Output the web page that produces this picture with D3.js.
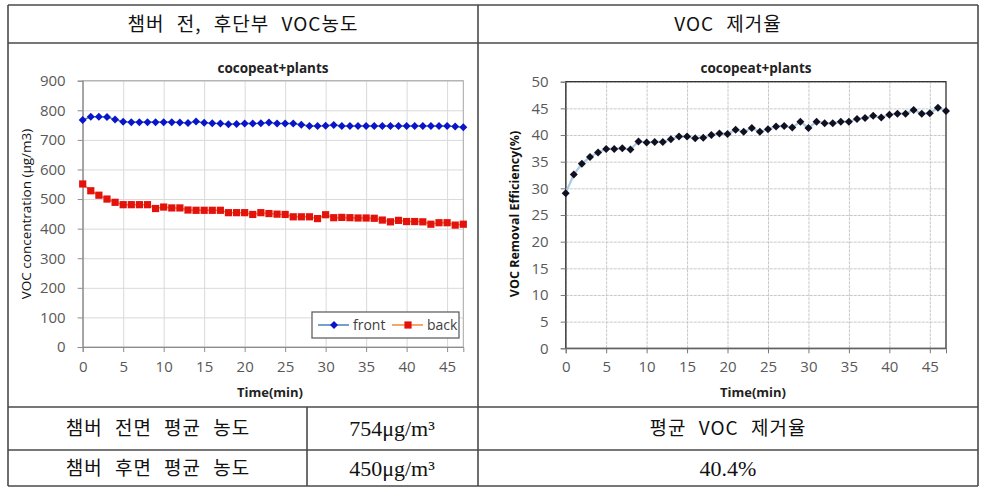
<!DOCTYPE html>
<html>
<head>
<meta charset="utf-8">
<script src="https://cdn.jsdelivr.net/npm/d3@7/dist/d3.min.js"></script>
<style>
body { margin: 0; background: #fff; }
.tick text { font-family: "Open Sans", sans-serif; font-size: 15px; fill: #595959; }
</style>
</head>
<body>
<svg id="fig" width="987" height="491"></svg>
<script>
/*------------------------
  -------- DATA ----------
  ------------------------*/
var minutes = [0,1,2,3,4,5,6,7,8,9,10,11,12,13,14,15,16,17,18,19,20,21,22,23,
               24,25,26,27,28,29,30,31,32,33,34,35,36,37,38,39,40,41,42,43,44,45,46,47];

var front = [767,778,778,777,769,761,760,760,760,760, 760,760,759,757,762,758,756,755,753,754,
             755,755,756,759,755,755,755,751,747,747, 748,750,747,747,747,747,747,747,747,747,
             747,747,747,747,747,747,745,743];

var back = [551,528,513,500,489,481,481,481,481,468, 473,470,470,463,462,462,462,462,454,454,
            454,448,454,451,449,448,440,440,440,434, 447,437,438,437,436,436,435,429,423,428,
            424,424,423,415,420,420,412,415];

var removal = [29.1,32.6,34.6,35.9,36.7,37.4,37.4,37.5,37.3,38.8, 38.6,38.7,38.7,39.2,39.7,39.7,39.4,39.5,40.0,40.3,
               40.2,41.0,40.6,41.3,40.6,41.1,41.6,41.7,41.4,42.5, 41.3,42.5,42.2,42.2,42.5,42.5,43.0,43.2,43.6,43.3,
               43.8,44.0,44.0,44.7,44.0,44.1,45.1,44.5];

var time_ticks = [0,5,10,15,20,25,30,35,40,45];
var conc_ticks = [0,100,200,300,400,500,600,700,800,900];
var eff_ticks = [0,5,10,15,20,25,30,35,40,45,50];

var series_names = ['front','back'];
var header_txt = ['챔버 전, 후단부 VOC농도', 'VOC 제거율'];
var row_labels = ['챔버 전면 평균 농도', '챔버 후면 평균 농도'];
var row_values = ['754μg/m³', '450μg/m³'];
var avg_label = '평균 VOC 제거율';
var avg_value = '40.4%';

var svg = d3.select("#fig");

/*------------------------
  -------- TABLE ---------
  ------------------------*/
function draw_table() {
    var g = svg.append("g").attr("class", "table");
    var line_col = "#4a4a4a";
    var hl = [5, 43, 407, 450, 486];
    hl.forEach(function(y) {
        g.append("line").attr("x1", 8).attr("x2", 978).attr("y1", y).attr("y2", y)
            .attr("stroke", line_col).attr("stroke-width", 1.6);
    });
    [[8,5,486],[978,5,486],[478,5,486],[307,407,486]].forEach(function(v) {
        g.append("line").attr("x1", v[0]).attr("x2", v[0]).attr("y1", v[1]).attr("y2", v[2])
            .attr("stroke", line_col).attr("stroke-width", 1.6);
    });

    var kr = function(sel) {
        return sel.attr("font-family", "'Noto Sans CJK KR', sans-serif")
            .attr("font-size", 19).attr("letter-spacing", 1)
            .attr("word-spacing", 7).attr("text-anchor", "middle")
            .attr("fill", "#111");
    };
    kr(g.append("text").attr("x", 243).attr("y", 31).text(header_txt[0]));
    kr(g.append("text").attr("x", 728).attr("y", 31).text(header_txt[1]));
    kr(g.append("text").attr("x", 158).attr("y", 435).text(row_labels[0]));
    kr(g.append("text").attr("x", 158).attr("y", 475).text(row_labels[1]));
    kr(g.append("text").attr("x", 728).attr("y", 435).text(avg_label));

    g.selectAll(".val").data(row_values).enter().append("text")
        .attr("class", "val")
        .attr("x", 392)
        .attr("y", function(d, i) { return i == 0 ? 436 : 476; })
        .attr("font-family", "'Liberation Serif', serif")
        .attr("font-size", 22).attr("text-anchor", "middle").attr("fill", "#111")
        .text(function(d) { return d; });

    g.append("text").attr("x", 728).attr("y", 476)
        .attr("font-family", "'Liberation Serif', serif")
        .attr("font-size", 22).attr("text-anchor", "middle").attr("fill", "#111")
        .text(avg_value);
}

/*------------------------
  ---- CHART HELPERS -----
  ------------------------*/
function style_axis(g, col) {
    g.select(".domain").attr("stroke", col);
    g.selectAll(".tick line").attr("stroke", col);
}

function grid(g, x, y, xt, yt, col, dash) {
    g.append("g")
        .attr("transform", "translate(" + x.range()[0] + ",0)")
        .call(d3.axisLeft(y).tickValues(yt).tickSize(-(x.range()[1] - x.range()[0])).tickFormat(""))
        .call(function(a) {
            a.select(".domain").remove();
            a.selectAll("line").attr("stroke", col).attr("stroke-dasharray", dash);
        });
    g.append("g")
        .attr("transform", "translate(0," + y.range()[0] + ")")
        .call(d3.axisBottom(x).tickValues(xt).tickSize(-(y.range()[0] - y.range()[1])).tickFormat(""))
        .call(function(a) {
            a.select(".domain").remove();
            a.selectAll("line").attr("stroke", col).attr("stroke-dasharray", dash);
        });
}

function chart_text(g, cx, x, y, title, ytitle, ytx, ybold) {
    g.append("text").attr("x", cx).attr("y", 73)
        .attr("text-anchor", "middle").attr("font-family", "'Open Sans', sans-serif")
        .attr("font-weight", "bold").attr("font-size", 13.5).attr("fill", "#222")
        .text(title);
    g.append("text").attr("x", cx - 3).attr("y", 397)
        .attr("text-anchor", "middle").attr("font-family", "'Open Sans', sans-serif")
        .attr("font-weight", "bold").attr("font-size", 13).attr("fill", "#222")
        .text("Time(min)");
    g.append("text")
        .attr("transform", "translate(" + ytx + ",214) rotate(-90)")
        .attr("text-anchor", "middle").attr("font-family", "'Open Sans', sans-serif")
        .attr("font-weight", ybold ? "bold" : "normal")
        .attr("font-size", ybold ? 12.5 : 13.5).attr("fill", "#111")
        .text(ytitle);
}

var diamond = d3.symbol().type(d3.symbolSquare);

/*------------------------
  ---- CONCENTRATION -----
  ------------------------*/
function draw_conc_chart() {
    var g = svg.append("g").attr("class", "conc");
    var x = d3.scaleLinear().domain([0, 47]).range([82.7, 463.3]);
    var y = d3.scaleLinear().domain([0, 900]).range([347, 80.7]);

    grid(g, x, y, time_ticks, conc_ticks, "#d9d9d9", null);

    g.append("rect").attr("x", x(0)).attr("y", y(900))
        .attr("width", x(47) - x(0)).attr("height", y(0) - y(900))
        .attr("fill", "none").attr("stroke", "#a6a6a6");

    g.append("g").attr("transform", "translate(" + x(0) + ",0)")
        .call(d3.axisLeft(y).tickValues(conc_ticks).tickSize(5).tickPadding(12))
        .call(style_axis, "#8c8c8c");
    g.append("g").attr("transform", "translate(0," + y(0) + ")")
        .call(d3.axisBottom(x).tickValues(time_ticks).tickSize(5).tickPadding(9))
        .call(style_axis, "#8c8c8c");

    var ln = function(arr) {
        return d3.line().x(function(d, i) { return x(minutes[i]); })
            .y(function(d) { return y(d); })(arr);
    };
    g.append("path").attr("d", ln(front)).attr("fill", "none")
        .attr("stroke", "#4a7ebb").attr("stroke-width", 1.5);
    g.append("path").attr("d", ln(back)).attr("fill", "none")
        .attr("stroke", "#f08a3c").attr("stroke-width", 1.5);

    g.selectAll(".pf").data(front).enter().append("path")
        .attr("class", "pf")
        .attr("d", diamond.size(32))
        .attr("transform", function(d, i) { return "translate(" + x(minutes[i]) + "," + y(d) + ") rotate(45)"; })
        .attr("fill", "#0a14c8");
    g.selectAll(".pb").data(back).enter().append("path")
        .attr("class", "pb")
        .attr("d", diamond.size(52))
        .attr("transform", function(d, i) { return "translate(" + x(minutes[i]) + "," + y(d) + ")"; })
        .attr("fill", "#e3120b");

    // legend
    var lg = g.append("g").attr("class", "legend");
    lg.append("rect").attr("x", 312).attr("y", 312).attr("width", 147).attr("height", 26)
        .attr("fill", "#fff").attr("stroke", "#555").attr("stroke-width", 1.2);
    var lx = [318, 392];
    var lcol = ["#4a7ebb", "#f08a3c"];
    series_names.forEach(function(s, i) {
        lg.append("line").attr("x1", lx[i]).attr("x2", lx[i] + 31).attr("y1", 325).attr("y2", 325)
            .attr("stroke", lcol[i]).attr("stroke-width", 1.5);
        lg.append("path")
            .attr("d", diamond.size(i == 0 ? 32 : 52))
            .attr("transform", "translate(" + (lx[i] + 16) + ",325)" + (i == 0 ? " rotate(45)" : ""))
            .attr("fill", i == 0 ? "#0a14c8" : "#e3120b");
        lg.append("text").attr("x", lx[i] + 35).attr("y", 330)
            .attr("font-family", "'Open Sans', sans-serif").attr("font-size", 14)
            .attr("fill", "#404040").text(s);
    });

    chart_text(g, 273, x, y, "cocopeat+plants", "VOC concentration (μg/m3)", 31, false);
}

/*------------------------
  ---- REMOVAL EFF. ------
  ------------------------*/
function draw_eff_chart() {
    var g = svg.append("g").attr("class", "eff");
    var x = d3.scaleLinear().domain([0, 47]).range([565.7, 946]);
    var y = d3.scaleLinear().domain([0, 50]).range([348.3, 81.7]);

    grid(g, x, y, time_ticks, eff_ticks, "#c8c8c8", "3,1");

    g.append("rect").attr("x", x(0)).attr("y", y(50))
        .attr("width", x(47) - x(0)).attr("height", y(0) - y(50))
        .attr("fill", "none").attr("stroke", "#222").attr("stroke-width", 1.2);

    g.append("g").attr("transform", "translate(" + x(0) + ",0)")
        .call(d3.axisLeft(y).tickValues(eff_ticks).tickSize(5).tickPadding(12))
        .call(style_axis, "#777");
    g.append("g").attr("transform", "translate(0," + y(0) + ")")
        .call(d3.axisBottom(x).tickValues(time_ticks).tickSize(5).tickPadding(8))
        .call(style_axis, "#777");

    var ln = d3.line().x(function(d, i) { return x(minutes[i]); })
        .y(function(d) { return y(d); });
    g.append("path").attr("d", ln(removal)).attr("fill", "none")
        .attr("stroke", "#a9cbe6").attr("stroke-width", 2.2);

    g.selectAll(".pr").data(removal).enter().append("path")
        .attr("class", "pr")
        .attr("d", diamond.size(32))
        .attr("transform", function(d, i) { return "translate(" + x(minutes[i]) + "," + y(d) + ") rotate(45)"; })
        .attr("fill", "#101020");

    chart_text(g, 756, x, y, "cocopeat+plants", "VOC Removal Efficiency(%)", 519, true);
}

/*---------------------
        -- RUN --
  ---------------------*/
draw_table();
draw_conc_chart();
draw_eff_chart();
</script>
</body>
</html>
